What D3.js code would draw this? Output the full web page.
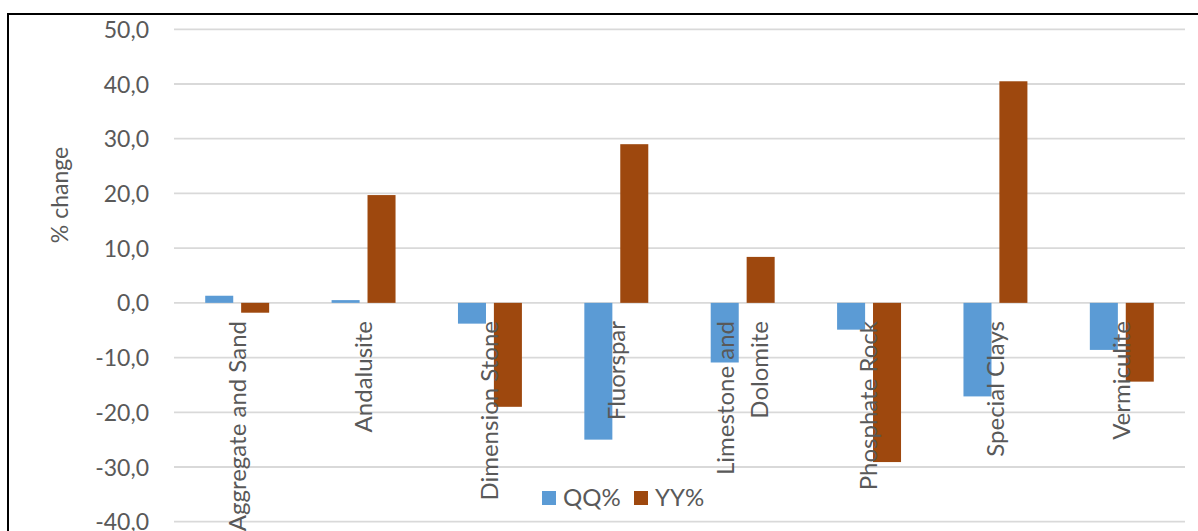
<!DOCTYPE html>
<html>
<head>
<meta charset="utf-8">
<script src="https://cdn.jsdelivr.net/npm/d3@7"></script>
<style>
html,body{margin:0;padding:0;background:#fff;}
svg{display:block;}
text{font-family:Lato,"Open Sans",sans-serif;fill:#595959;}
</style>
</head>
<body>
<svg id="chart" width="1198" height="531"></svg>
<script>
const categories = ["Aggregate and Sand","Andalusite","Dimension Stone","Fluorspar","Limestone and\nDolomite","Phosphate Rock","Special Clays","Vermiculite"];
const seriesNames = ["QQ%","YY%"];
const qqValues = [1.3, 0.5, -3.8, -25.0, -10.9, -4.9, -17.1, -8.6];
const yyValues = [-1.8, 19.7, -19.0, 29.0, 8.4, -29.1, 40.5, -14.4];
const yTicks = [50,40,30,20,10,0,-10,-20,-30,-40];
const colors = ["#5B9BD5","#9E480E"];

const svg = d3.select("#chart");
const W = 1198, H = 531;
const plotLeft = 174, plotRight = 1185;

const y = d3.scaleLinear().domain([-40, 50]).range([521.7, 29.3]);
const x0 = d3.scaleBand().domain(categories).range([plotLeft, plotRight]).paddingInner(0.494).paddingOuter(0.247);
const x1 = d3.scaleBand().domain(seriesNames).range([0, x0.bandwidth()]).paddingInner(0.22);

// gridlines
svg.append("g").selectAll("line").data(yTicks).join("line")
  .attr("x1", plotLeft).attr("x2", plotRight)
  .attr("y1", d => y(d)).attr("y2", d => y(d))
  .attr("stroke", "#d9d9d9").attr("stroke-width", 1.8);

// y axis tick labels
const yAxis = d3.axisLeft(y).tickValues(yTicks).tickSize(0).tickPadding(0)
  .tickFormat(d => d3.format(".1f")(d).replace(".", ",").replace("−","-"));
const gy = svg.append("g").attr("transform", "translate(149,0)").call(yAxis);
gy.select(".domain").remove();
gy.selectAll("text").attr("font-size", 23).attr("fill", "#595959")
  .style("font-family", "Lato, 'Open Sans', sans-serif").attr("dy", "0.35em");

// bars
const data = categories.map((c, i) => ({cat: c, vals: [qqValues[i], yyValues[i]]}));
const groups = svg.append("g").selectAll("g").data(data).join("g")
  .attr("transform", d => `translate(${x0(d.cat)},0)`);
groups.selectAll("rect").data(d => d.vals.map((v, j) => ({v, s: seriesNames[j], j})))
  .join("rect")
  .attr("x", d => x1(d.s))
  .attr("width", x1.bandwidth())
  .attr("y", d => y(Math.max(0, d.v)))
  .attr("height", d => Math.abs(y(d.v) - y(0)))
  .attr("fill", d => colors[d.j]);

// category labels
const lh = 34;
svg.append("g").selectAll("text").data(categories).join("text")
  .attr("transform", d => `translate(${x0(d) + x0.bandwidth()/2},321) rotate(-90)`)
  .attr("text-anchor", "end")
  .attr("font-size", 24)
  .each(function(d) {
    const lines = d.split("\n");
    const t = d3.select(this);
    lines.forEach((ln, k) => {
      t.append("tspan").attr("x", 0)
        .attr("dy", k === 0 ? (0.35*24 - (lines.length-1)*lh/2) : lh)
        .text(ln);
    });
  });

// y axis title
svg.append("text")
  .attr("transform", "translate(60,195) rotate(-90)")
  .attr("text-anchor", "middle")
  .attr("dy", "0.35em")
  .attr("font-size", 23)
  .text("% change");

// legend
const legend = svg.append("g");
const legendItems = [{name: seriesNames[0], x: 542, c: colors[0]}, {name: seriesNames[1], x: 634, c: colors[1]}];
legendItems.forEach(it => {
  legend.append("rect").attr("x", it.x).attr("y", 491).attr("width", 14).attr("height", 14).attr("fill", it.c);
  legend.append("text").attr("x", it.x + 21).attr("y", 498).attr("dy", "0.35em").attr("font-size", 24).text(it.name);
});

// border (chart frame, cut at right and bottom)
svg.append("path")
  .attr("d", `M8,${H} L8,14 L${W},14`)
  .attr("fill", "none").attr("stroke", "#000").attr("stroke-width", 2);
</script>
</body>
</html>
